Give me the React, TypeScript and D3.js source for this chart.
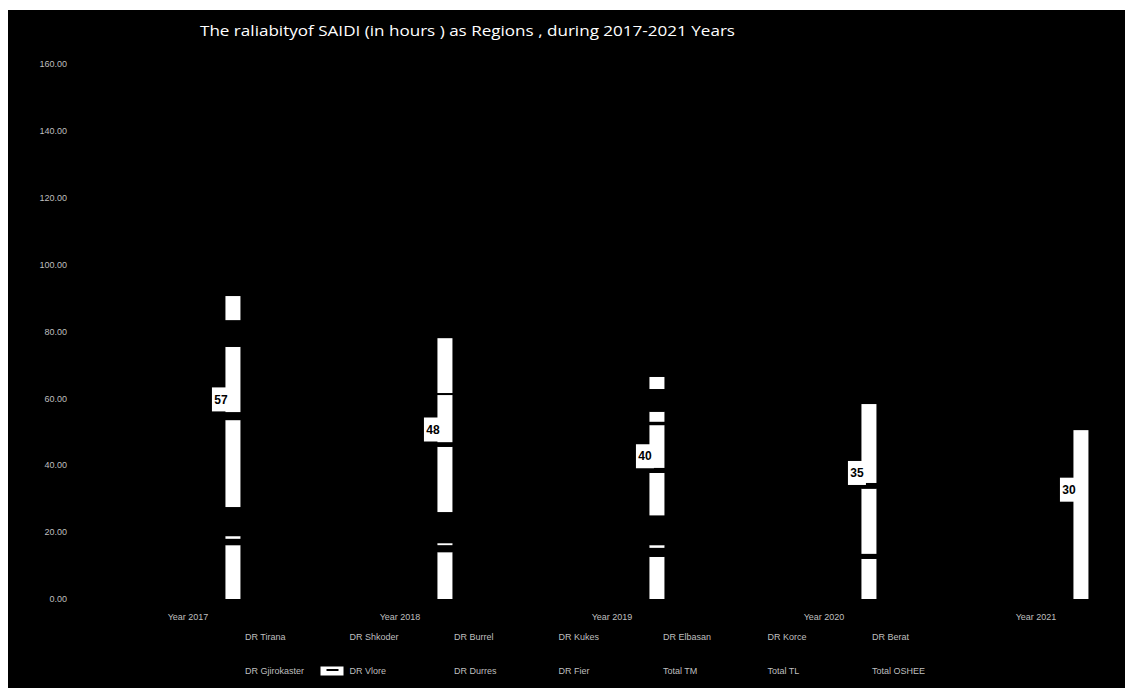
import React from "react";
import * as d3 from "d3";

const YEARS = ["Year 2017", "Year 2018", "Year 2019", "Year 2020", "Year 2021"];

// stacked segments, bottom -> top
const DR_TIRANA = [16.1, 14.0, 12.6, 12.0, 50.5];
const DR_SHKODER = [1.9, 2.1, 2.7, 1.5, 0];
const DR_BURREL = [0.8, 0.6, 0.8, 19.5, 0];
const DR_KUKES = [8.7, 9.3, 8.9, 1.7, 0];
const DR_ELBASAN = [26.0, 19.5, 12.7, 23.6, 0];
const DR_KORCE = [2.4, 1.4, 1.5, 0, 0];
const DR_BERAT = [19.5, 14.1, 12.8, 0, 0];
const DR_GJIROKASTER = [8.0, 0.6, 1.0, 0, 0];
const DR_VLORE = [7.2, 16.4, 3.0, 0, 0];
const DR_DURRES = [0, 0, 6.8, 0, 0];
const DR_FIER = [0, 0, 3.6, 0, 0];

const TOTAL_OSHEE = [57, 48, 40, 35, 30];

const Y_TICKS = [0, 20, 40, 60, 80, 100, 120, 140, 160];

const LEGEND_ROW1 = ["DR Tirana", "DR Shkoder", "DR Burrel", "DR Kukes", "DR Elbasan", "DR Korce", "DR Berat"];
const LEGEND_ROW2 = ["DR Gjirokaster", "DR Vlore", "DR Durres", "DR Fier", "Total TM", "Total TL", "Total OSHEE"];

const TITLE = "The raliabityof SAIDI (in hours ) as Regions , during 2017-2021 Years";

const SERIES: { name: string; values: number[] }[] = [
  { name: "DR Tirana", values: DR_TIRANA },
  { name: "DR Shkoder", values: DR_SHKODER },
  { name: "DR Burrel", values: DR_BURREL },
  { name: "DR Kukes", values: DR_KUKES },
  { name: "DR Elbasan", values: DR_ELBASAN },
  { name: "DR Korce", values: DR_KORCE },
  { name: "DR Berat", values: DR_BERAT },
  { name: "DR Gjirokaster", values: DR_GJIROKASTER },
  { name: "DR Vlore", values: DR_VLORE },
  { name: "DR Durres", values: DR_DURRES },
  { name: "DR Fier", values: DR_FIER },
];

const SERIES_FILL: Record<string, string> = {
  "DR Tirana": "#ffffff",
  "DR Shkoder": "#000000",
  "DR Burrel": "#ffffff",
  "DR Kukes": "#000000",
  "DR Elbasan": "#ffffff",
  "DR Korce": "#000000",
  "DR Berat": "#ffffff",
  "DR Gjirokaster": "#000000",
  "DR Vlore": "#ffffff",
  "DR Durres": "#000000",
  "DR Fier": "#ffffff",
};

const W = 1117;
const H = 678;
const OX = 8;
const OY = 10;

export default function App() {
  const y = d3.scaleLinear().domain([0, 160]).range([599 - OY, 64 - OY]);
  const x = d3.scaleBand<string>().domain(YEARS).range([82 - OX, 1142 - OX]).padding(0);
  const bw = x.bandwidth();
  const barW = 15;
  const barCenter = (yr: string) => (x(yr) as number) + bw * 0.712;

  const rows = YEARS.map((yr, i) => {
    const r: any = { year: yr };
    SERIES.forEach((s) => (r[s.name] = s.values[i]));
    return r;
  });
  const stack = d3.stack<any>().keys(SERIES.map((s) => s.name));
  const stacked = stack(rows);

  const fmt = d3.format(".2f");
  const txt = "#bfbfbf";
  const small = { fontFamily: "Liberation Sans, Arial, sans-serif", fontSize: 9, fill: txt } as const;

  const legendX0 = 216 - OX;
  const legendStep = 104.5;
  const legendY = [637 - OY, 671 - OY];

  return (
    <svg width={W} height={H} style={{ display: "block", marginTop: OY - 8 }}>
      <rect x={0} y={0} width={W} height={H} fill="#000" />
      <text
        x={200 - OX}
        y={36 - OY}
        fill="#fff"
        style={{ fontFamily: "Open Sans, sans-serif", fontSize: 15 }}
        textLength={535}
        lengthAdjust="spacingAndGlyphs"
      >
        {TITLE}
      </text>

      {Y_TICKS.map((t) => (
        <text key={t} x={67 - OX} y={y(t)} dy="0.35em" textAnchor="end" style={small}>
          {fmt(t)}
        </text>
      ))}

      {stacked.map((layer) => (
        <g key={layer.key} fill={SERIES_FILL[layer.key as string]}>
          {layer.map((d, i) => {
            const h = y(d[0]) - y(d[1]);
            if (h <= 0) return null;
            return (
              <rect
                key={i}
                x={barCenter(YEARS[i]) - barW / 2}
                y={y(d[1])}
                width={barW}
                height={h}
              />
            );
          })}
        </g>
      ))}

      {TOTAL_OSHEE.map((v, i) => {
        const cx = barCenter(YEARS[i]) - 12;
        const cy = y(v) - 9;
        return (
          <g key={i}>
            <rect x={cx - 9} y={cy - 12} width={18} height={24} fill="#fff" />
            <text
              x={cx}
              y={cy}
              dy="0.35em"
              textAnchor="middle"
              style={{ fontFamily: "Liberation Sans, Arial, sans-serif", fontSize: 12, fontWeight: 700, fill: "#000" }}
            >
              {v}
            </text>
          </g>
        );
      })}

      {YEARS.map((yr) => (
        <text key={yr} x={(x(yr) as number) + bw / 2} y={617 - OY} dy="0.35em" textAnchor="middle" style={small}>
          {yr}
        </text>
      ))}

      {[LEGEND_ROW1, LEGEND_ROW2].map((row, ri) =>
        row.map((name, ci) => {
          const x0 = legendX0 + ci * legendStep;
          const ly = legendY[ri];
          return (
            <g key={name + ri}>
              {name === "DR Vlore" && (
                <g>
                  <rect x={x0} y={ly - 4.5} width={23} height={9} fill="#fff" />
                  <line x1={x0 + 6} x2={x0 + 18} y1={ly - 1} y2={ly - 1} stroke="#000" strokeWidth={2} />
                </g>
              )}
              <text x={x0 + 29} y={ly} dy="0.35em" style={small}>
                {name}
              </text>
            </g>
          );
        })
      )}
    </svg>
  );
}
